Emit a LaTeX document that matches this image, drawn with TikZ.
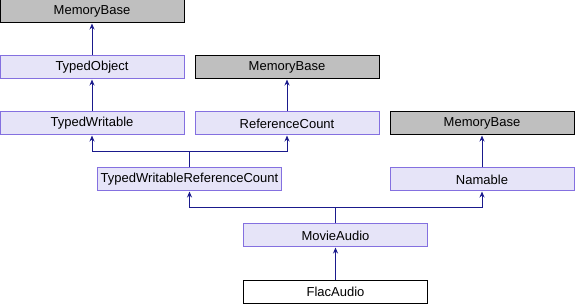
\documentclass[tikz,border=0pt]{standalone}
\usepackage{fontspec}
\setmainfont{Liberation Sans}
\usetikzlibrary{arrows.meta}
\definecolor{clsfill}{HTML}{E6E4F8}
\definecolor{clsdraw}{HTML}{8470E0}
\definecolor{extfill}{HTML}{BFBFBF}
\definecolor{edgecol}{HTML}{1A1A8C}
\tikzset{
  cls/.style={draw=clsdraw, fill=clsfill, line width=1pt, minimum width=184pt, minimum height=23pt,
    inner sep=0pt, font=\fontsize{13}{15}\selectfont},
  ext/.style={cls, draw=black, fill=extfill},
  cur/.style={cls, draw=black, fill=white},
  inh/.style={draw=edgecol, line width=1pt, -{Stealth[length=6pt,width=5pt]}},
  seg/.style={draw=edgecol, line width=1pt}
}
\begin{document}
\begin{tikzpicture}[x=1pt,y=-1pt]
\useasboundingbox (0,0) rectangle (575,304);
% classes
\node[ext] (mb1) at (92,11.5) {MemoryBase};
\node[cls] (to) at (92,67.5) {TypedObject};
\node[cls] (tw) at (92,123.5) {TypedWritable};
\node[ext] (mb2) at (287,67.5) {MemoryBase};
\node[cls] (rc) at (287,123.5) {ReferenceCount};
\node[ext] (mb3) at (482,123.5) {MemoryBase};
\node[cls] (nm) at (482,179.5) {Namable};
\node[cls] (twrc) at (189.5,179.5) {TypedWritableReferenceCount};
\node[cls] (ma) at (335.5,235.5) {MovieAudio};
\node[cur] (fa) at (335.5,291.5) {FlacAudio};
% junction points of the merged edges
\coordinate (j1) at (189.5,152);
\coordinate (j2) at (335.5,208);
% inheritance edges
\draw[inh] (to) -- (mb1);
\draw[inh] (tw) -- (to);
\draw[inh] (rc) -- (mb2);
\draw[inh] (nm) -- (mb3);
\draw[seg] (twrc.north) -- (j1);
\draw[inh] (j1) -| (tw.south);
\draw[inh] (j1) -| (rc.south);
\draw[seg] (ma.north) -- (j2);
\draw[inh] (j2) -| (twrc.south);
\draw[inh] (j2) -| (nm.south);
\draw[inh] (fa) -- (ma);
\end{tikzpicture}
\end{document}
